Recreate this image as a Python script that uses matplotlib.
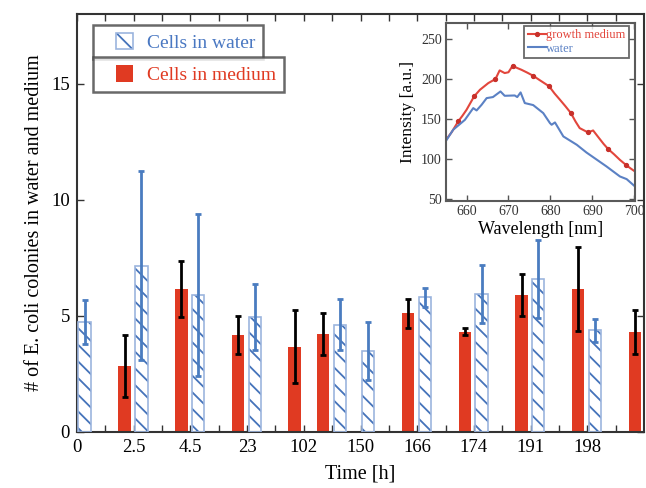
import numpy as np
import matplotlib
matplotlib.use("Agg")
import matplotlib.pyplot as plt
import matplotlib.patches as mpatches
from matplotlib.legend_handler import HandlerPatch, HandlerTuple

plt.rcParams['font.family'] = ['Liberation Serif', 'DejaVu Serif']
plt.rcParams['hatch.linewidth'] = 1.3

# ---------------- data: main bar chart ----------------
time_labels = ['0', '2.5', '4.5', '23', '102', '150', '166', '174', '191', '198']

water_slot = [0, 2, 4, 6, 9, 10, 12, 14, 16, 18]
water_mean = [4.73, 7.16, 5.90, 4.94, 4.61, 3.49, 5.80, 5.95, 6.58, 4.37]
water_err = [0.95, 4.07, 3.50, 1.43, 1.10, 1.24, 0.40, 1.26, 1.67, 0.50]

medium_slot = [1, 3, 5, 7, 8, 11, 13, 15, 17, 19]
medium_mean = [2.84, 6.15, 4.17, 3.68, 4.22, 5.11, 4.31, 5.89, 6.15, 4.31]
medium_err = [1.35, 1.20, 0.83, 1.57, 0.90, 0.63, 0.15, 0.90, 1.80, 0.95]

# ---------------- data: inset spectra ----------------
red_wl = [655.0, 656.5, 658.0, 659.0, 660.0, 661.8, 663.2, 665.2, 666.9, 667.9,
          669.1, 670.0, 671.0, 672.0, 673.1, 674.5, 675.9, 677.5, 679.7, 681.0,
          682.3, 683.6, 684.9, 686.0, 687.0, 689.0, 690.2, 691.5, 692.7, 693.8,
          695.2, 696.6, 698.0, 699.1, 700.2]
red_val = [123.3, 134, 147, 154, 161.6, 178.3, 186.6, 195, 200, 210.8,
           207.5, 208.5, 216.6, 214, 211.6, 208, 204.1, 198.5, 191, 182,
           174.1, 166, 157.5, 147, 138.7, 133.3, 135.8, 127, 119, 112.5,
           106, 99, 92.9, 88.5, 84.5]
red_markers = [2, 5, 8, 12, 16, 18, 22, 25, 29, 32]

water_wl = [655.0, 656.8, 659.6, 661.6, 662.4, 663.6, 664.8, 666.3, 668.1, 669.1,
            671.5, 672.1, 672.9, 673.9, 675.9, 678.3, 679.9, 680.3, 681.1, 683.1,
            686.3, 688.6, 693.4, 696.6, 698.2, 700.2]
water_val = [122, 136.6, 149, 163.7, 160.8, 167.9, 176.2, 177.5, 184.5, 179.1,
             179.5, 177.5, 183.3, 170, 167.5, 157.5, 145, 142.9, 145.8, 128.3,
             117.9, 108.3, 90.8, 78.3, 75, 65.8]

# ---------------- style ----------------
RED = '#e03a22'
BLUE_TXT = '#4a78c2'
BLUE_HATCH = '#4573ba'
BLUE_EDGE = '#9cb5de'
BLUE_ERR = '#4a7cc0'
FRAME = '#333333'
HATCH = '\\\\'

W_OFF, M_OFF, BW = 0.27, 0.68, 0.44

fig = plt.figure(figsize=(6.46, 4.88), dpi=100)
ax = fig.add_axes([0.1192, 0.1148, 0.8777, 0.8566])

wx = np.array(water_slot) + W_OFF
mx = np.array(medium_slot) + M_OFF

ax.bar(wx, water_mean, BW, color='white', edgecolor=BLUE_HATCH, hatch=HATCH,
       linewidth=0, zorder=2)
ax.bar(wx, water_mean, BW, fill=False, edgecolor=BLUE_EDGE, linewidth=1.2, zorder=3)
ax.bar(mx, medium_mean, BW, color=RED, linewidth=0, zorder=2)

ax.errorbar(wx, water_mean, yerr=water_err, fmt='none', ecolor=BLUE_ERR,
            elinewidth=2, capsize=2, capthick=2, zorder=4)
ax.errorbar(mx, medium_mean, yerr=medium_err, fmt='none', ecolor='black',
            elinewidth=2, capsize=2, capthick=2, zorder=4)

ax.set_xlim(0, 20)
ax.set_ylim(0, 18)
ax.set_xticks(np.arange(0, 20, 2))
ax.set_xticklabels(time_labels)
ax.set_xticks(np.arange(1, 20, 2), minor=True)
ax.set_yticks([0, 5, 10, 15])
ax.tick_params(which='both', direction='in', top=True, right=True, length=5,
               width=1, color=FRAME, labelsize=13.5, pad=5)
for s in ax.spines.values():
    s.set_color(FRAME)
    s.set_linewidth(1.5)

ax.set_xlabel('Time [h]', fontsize=14.5, labelpad=6)
ax.set_ylabel('# of E. coli colonies in water and medium', fontsize=14.5, labelpad=5)


def square_patch(legend, orig_handle, xdescent, ydescent, width, height, fontsize):
    s = height
    return mpatches.Rectangle((-xdescent + width - s, -ydescent), s, s)


sq_handler = HandlerPatch(patch_func=square_patch)
h_water = (mpatches.Patch(facecolor='white', edgecolor=BLUE_HATCH, hatch=HATCH, linewidth=0),
           mpatches.Patch(fill=False, edgecolor=BLUE_EDGE, linewidth=1.2))
h_med = mpatches.Patch(facecolor=RED, edgecolor=RED, linewidth=0)

leg_kw = dict(loc='upper left', bbox_transform=ax.transAxes, borderaxespad=0,
              fancybox=False, fontsize=14, borderpad=0.4, handlelength=1.66,
              handleheight=0.95, handletextpad=0.72,
              handler_map={mpatches.Patch: sq_handler, tuple: HandlerTuple(ndivide=1)})
leg1 = ax.legend([h_water], ['Cells in water'], bbox_to_anchor=(0.028, 0.974), **leg_kw)
leg1.get_texts()[0].set_color(BLUE_TXT)
leg1.get_frame().set_edgecolor('#444444')
leg1.get_frame().set_linewidth(1.8)
ax.add_artist(leg1)
leg2 = ax.legend([h_med], ['Cells in medium'], bbox_to_anchor=(0.028, 0.897), **leg_kw)
leg2.get_texts()[0].set_color(RED)
leg2.get_frame().set_edgecolor('#444444')
leg2.get_frame().set_linewidth(1.8)

# ---------------- inset ----------------
ins = fig.add_axes([0.6904, 0.5887, 0.2926, 0.3641])
ins.plot(red_wl, red_val, color='#e2463c', lw=1.5, marker='o', markersize=2.8,
         markerfacecolor='#c8302a', markeredgecolor='#c8302a',
         markevery=red_markers, label='growth medium')
ins.plot(water_wl, water_val, color='#5b81c4', lw=1.5, label='water')
ins.set_xlim(655.1, 700.2)
ins.set_ylim(48, 270)
ins.set_xticks([660, 670, 680, 690, 700])
ins.set_yticks([50, 100, 150, 200, 250])
ins.tick_params(which='both', direction='in', top=True, right=True, length=4,
                width=1, color='#555555', labelsize=10, labelcolor='#333333', pad=3)
for s in ins.spines.values():
    s.set_color('#5a5a5a')
    s.set_linewidth(1.5)
ins.set_xlabel('Wavelength [nm]', fontsize=13, labelpad=2)
ins.set_ylabel('Intensity [a.u.]', fontsize=12.5, labelpad=4)
il = ins.legend(loc='upper right', bbox_to_anchor=(0.97, 0.985), borderaxespad=0,
                fancybox=False, fontsize=9, handlelength=1.4, handletextpad=0.05,
                labelspacing=0.1, borderpad=0.3)
il.get_texts()[0].set_color('#e2463c')
il.get_texts()[1].set_color('#5b81c4')
il.get_frame().set_edgecolor('#444444')
il.get_frame().set_linewidth(1.3)

fig.savefig('out.png', dpi=100)
